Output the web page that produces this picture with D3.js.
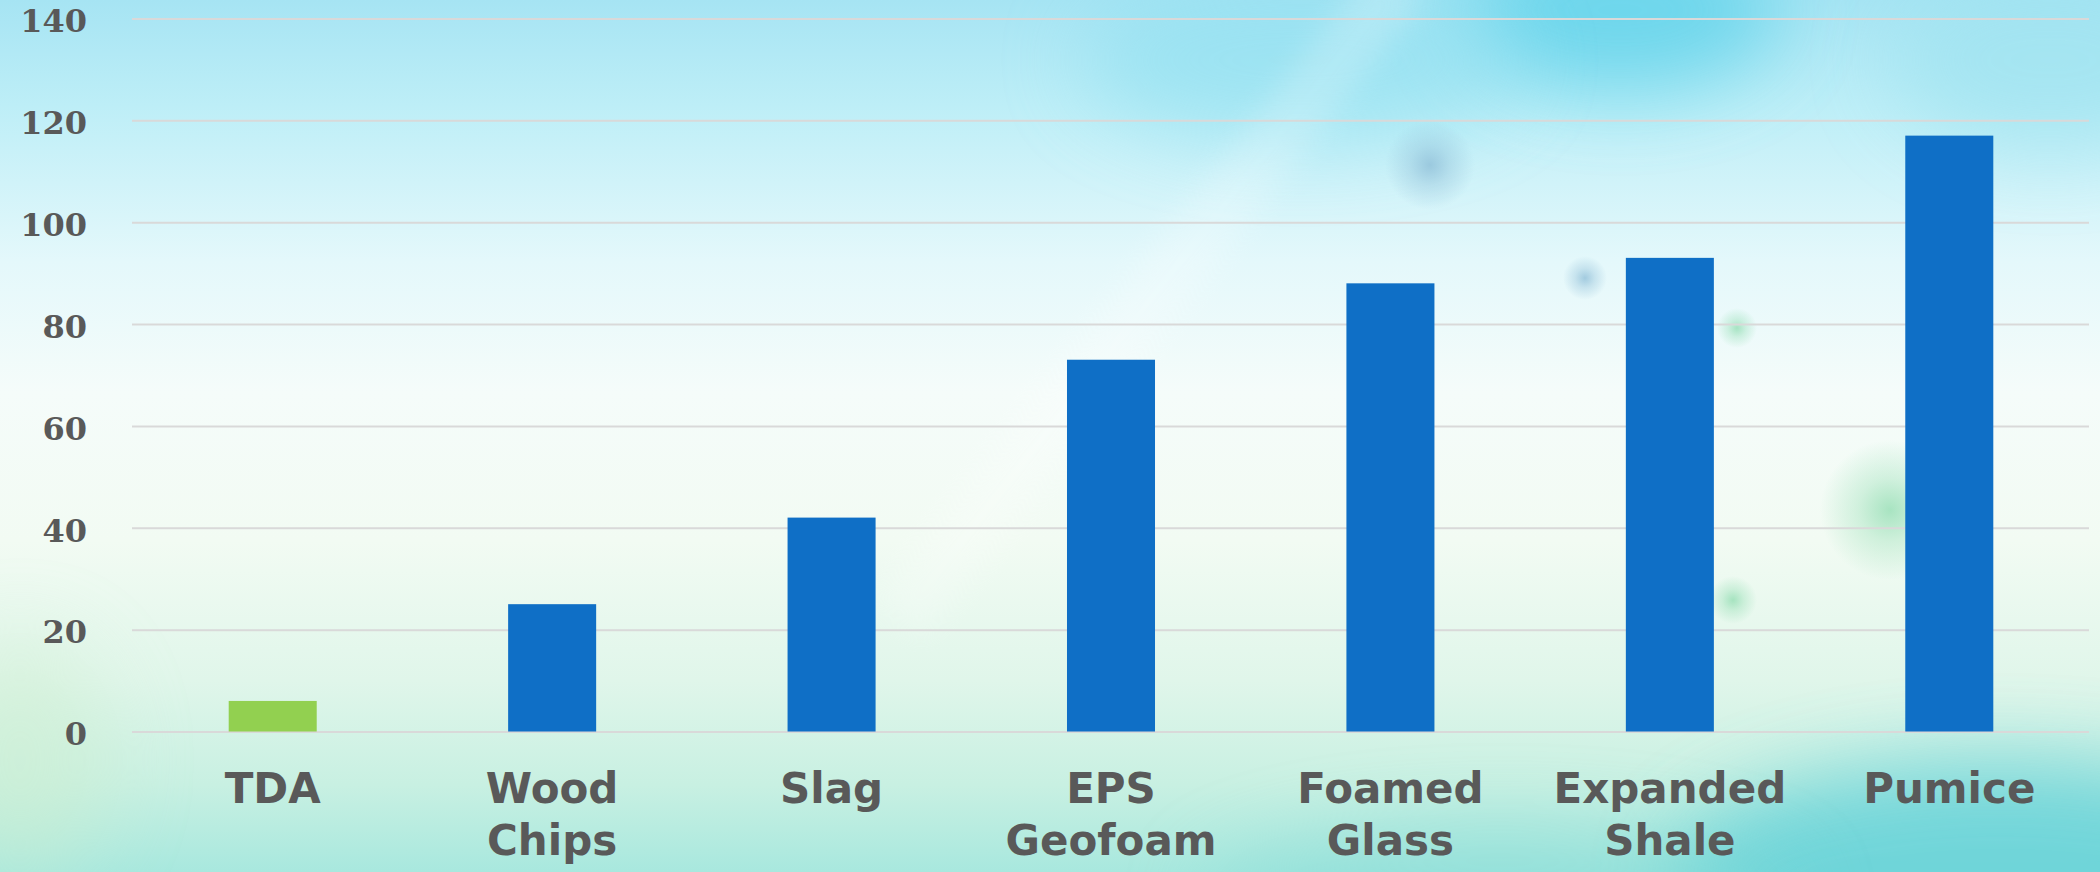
<!DOCTYPE html>
<html lang="en">
<head>
<meta charset="UTF-8">
<style>
  html, body { margin: 0; padding: 0; overflow: hidden; }
  svg { display: block; }
  .grid line { stroke: #d9d9d9; stroke-width: 2; }
  .ylab text { font-family: "DejaVu Serif", serif; font-weight: bold; font-size: 32px; fill: #595959; }
  .xlab { font-family: "DejaVu Sans", sans-serif; font-weight: bold; font-size: 42px; fill: #595959; }
</style>
</head>
<body>
<script src="https://cdn.jsdelivr.net/npm/d3@7"></script>
<script>
// data
var categories = ['TDA', 'Wood Chips', 'Slag', 'EPS Geofoam', 'Foamed Glass', 'Expanded Shale', 'Pumice'];
var values = [6, 25, 42, 73, 88, 93, 117];
var barColors = ['#92d050', '#0f6fc6', '#0f6fc6', '#0f6fc6', '#0f6fc6', '#0f6fc6', '#0f6fc6'];
var yTicks = [0, 20, 40, 60, 80, 100, 120, 140];

var W = 2100, H = 872;
var svg = d3.select('body').append('svg').attr('width', W).attr('height', H);
var defs = svg.append('defs');

// background wash
var bg = defs.append('linearGradient').attr('id', 'bg').attr('x1', 0).attr('y1', 0).attr('x2', 0).attr('y2', 1);
[[0, '#a6e4f3'], [0.12, '#bdeef7'], [0.3, '#e4f8fb'], [0.45, '#f5fcfa'], [0.62, '#f2fbf3'],
 [0.78, '#e0f6ea'], [0.9, '#c8f0e2'], [1, '#a8e8de']].forEach(function(s) {
    bg.append('stop').attr('offset', s[0]).attr('stop-color', s[1]);
});
svg.append('rect').attr('width', W).attr('height', H).attr('fill', 'url(#bg)');

var blur = defs.append('filter').attr('id', 'blur').attr('x', '-100%').attr('y', '-100%').attr('width', '300%').attr('height', '300%');
blur.append('feGaussianBlur').attr('stdDeviation', 40);
var blurS = defs.append('filter').attr('id', 'blurS').attr('filterUnits', 'userSpaceOnUse')
    .attr('x', 0).attr('y', -100).attr('width', W).attr('height', H + 200);
blurS.append('feGaussianBlur').attr('stdDeviation', 14);

// soft round spots
function spot(id, color) {
    var g = defs.append('radialGradient').attr('id', id);
    g.append('stop').attr('offset', 0).attr('stop-color', color).attr('stop-opacity', 0.75);
    g.append('stop').attr('offset', 0.45).attr('stop-color', color).attr('stop-opacity', 0.35);
    g.append('stop').attr('offset', 1).attr('stop-color', color).attr('stop-opacity', 0);
}
spot('spotBlue', '#8cbcd6');
spot('spotGreen', '#8fdcb0');

var deco = svg.append('g');
deco.append('ellipse').attr('cx', 1620).attr('cy', 10).attr('rx', 160).attr('ry', 80).attr('fill', '#5fd3ea').attr('opacity', 0.8).attr('filter', 'url(#blur)');
deco.append('ellipse').attr('cx', 1300).attr('cy', 60).attr('rx', 220).attr('ry', 80).attr('fill', '#8ddff0').attr('opacity', 0.6).attr('filter', 'url(#blur)');
deco.append('ellipse').attr('cx', 2050).attr('cy', 60).attr('rx', 160).attr('ry', 90).attr('fill', '#9fe3f0').attr('opacity', 0.7).attr('filter', 'url(#blur)');
deco.append('ellipse').attr('cx', 2000).attr('cy', 880).attr('rx', 330).attr('ry', 120).attr('fill', '#5ccfd8').attr('opacity', 0.75).attr('filter', 'url(#blur)');
deco.append('ellipse').attr('cx', 1500).attr('cy', 900).attr('rx', 300).attr('ry', 70).attr('fill', '#7fd9d6').attr('opacity', 0.5).attr('filter', 'url(#blur)');
deco.append('ellipse').attr('cx', 20).attr('cy', 760).attr('rx', 90).attr('ry', 120).attr('fill', '#cdeecf').attr('opacity', 0.5).attr('filter', 'url(#blur)');
// light streak
deco.append('line').attr('x1', 900).attr('y1', 620).attr('x2', 1400).attr('y2', -20)
    .attr('stroke', '#ffffff').attr('stroke-width', 60).attr('opacity', 0.2).attr('filter', 'url(#blurS)');
// small soft spots
[[1430, 165, 45, 'spotBlue'], [1585, 278, 22, 'spotBlue'], [1737, 328, 20, 'spotGreen'],
 [1733, 600, 24, 'spotGreen'], [1890, 510, 70, 'spotGreen']].forEach(function(s) {
    deco.append('circle').attr('cx', s[0]).attr('cy', s[1]).attr('r', s[2]).attr('fill', 'url(#' + s[3] + ')');
});

// scales
var margin = { left: 133, right: 11 };
var zeroY = 731.5, topY = 18.5;
var x = d3.scaleBand().domain(categories).range([margin.left, W - margin.right])
    .paddingInner(0.685).paddingOuter(0.3425);
var y = d3.scaleLinear().domain([0, 140]).range([zeroY, topY]);

// gridlines
var grid = svg.append('g').attr('class', 'grid').attr('transform', 'translate(' + (margin.left - 1) + ',0)')
    .call(d3.axisLeft(y).tickValues(yTicks).tickSize(-(W - margin.right - margin.left + 1)).tickFormat(''));
grid.select('.domain').remove();

// y labels
var ylab = svg.append('g').attr('class', 'ylab').attr('transform', 'translate(87,3)')
    .call(d3.axisLeft(y).tickValues(yTicks).tickSize(0).tickPadding(0));
ylab.select('.domain').remove();

// bars
svg.append('g').selectAll('rect').data(values).enter().append('rect')
    .attr('x', function(d, i) { return x(categories[i]); })
    .attr('width', x.bandwidth())
    .attr('y', function(d) { return y(d); })
    .attr('height', function(d) { return y(0) - y(d); })
    .attr('fill', function(d, i) { return barColors[i]; });

// category labels, wrapped on spaces
var xl = svg.append('g').selectAll('text').data(categories).enter().append('text')
    .attr('class', 'xlab')
    .attr('text-anchor', 'middle')
    .attr('x', function(d) { return x(d) + x.bandwidth() / 2; })
    .attr('y', zeroY + 71.5);
xl.each(function(d) {
    var t = d3.select(this);
    d.split(' ').forEach(function(w, k) {
        t.append('tspan').attr('x', t.attr('x')).attr('dy', k === 0 ? 0 : 52).text(w);
    });
});
</script>
</body>
</html>
